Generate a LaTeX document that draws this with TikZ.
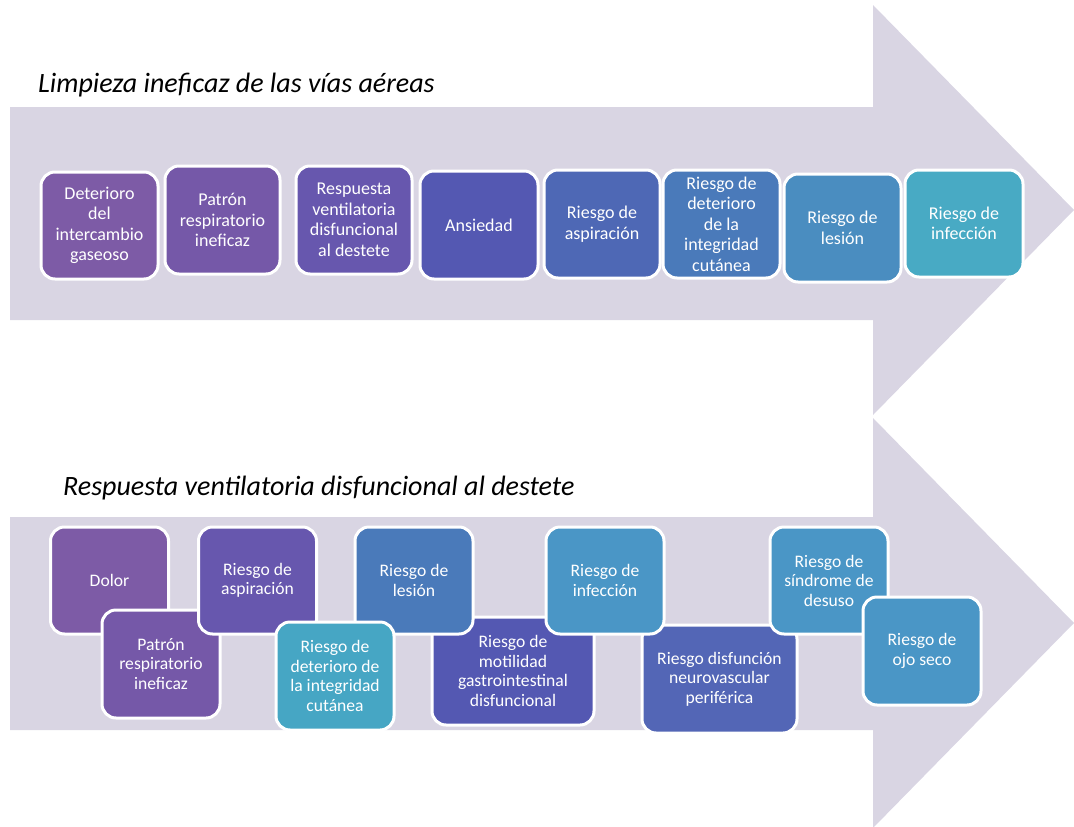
\documentclass[tikz,border=0pt]{standalone}
\usepackage{fontspec}
\setmainfont{Carlito}
\definecolor{arrowgray}{RGB}{217,213,227}
\definecolor{cA}{RGB}{125,91,166}
\definecolor{cB}{RGB}{117,88,168}
\definecolor{cC}{RGB}{103,87,174}
\definecolor{cD}{RGB}{84,88,178}
\definecolor{cE}{RGB}{78,104,181}
\definecolor{cF}{RGB}{74,122,186}
\definecolor{cG}{RGB}{74,141,192}
\definecolor{cH}{RGB}{72,170,196}
\definecolor{cI}{RGB}{74,150,198}
\definecolor{cJ}{RGB}{83,102,182}
\definecolor{cK}{RGB}{70,166,196}
\begin{document}
\begin{tikzpicture}[x=1pt,y=-1pt,
  box/.style={draw=white, line width=3pt, rounded corners=14pt, text=white,
    align=center, inner sep=0pt, minimum width=117pt, minimum height=107pt,
    font=\fontsize{18}{20.5}\selectfont},
  boxb/.style={box, minimum width=118pt, font=\fontsize{17.6}{19.5}\selectfont},
  bigarrow/.style={fill=arrowgray, draw=none},
  title/.style={anchor=base west, inner sep=0pt, font=\fontsize{28}{32}\selectfont\itshape}]
\useasboundingbox (0,0) rectangle (1074,827);
% arrows
\fill[bigarrow] (10,107) -- (873,107) -- (873,5) -- (1074,210) -- (873,415) -- (873,320) -- (10,320) -- cycle;
\fill[bigarrow] (10,517) -- (873,517) -- (873,418) -- (1074,623) -- (873,828) -- (873,730) -- (10,730) -- cycle;
% titles
\node[title] (title1) at (38,92) {Limpieza ineficaz de las vías aéreas};
\node[title] (title2) at (63,495) {Respuesta ventilatoria disfuncional al destete};
% top row
\node[box, fill=cA] (t1) at (99.5,225.5) {Deterioro\\del\\intercambio\\gaseoso};
\node[box, fill=cB, minimum width=115pt, minimum height=108pt] (t2) at (222.5,220) {Patrón\\respiratorio\\ineficaz};
\node[box, fill=cC, minimum width=116pt, minimum height=108pt] (t3) at (354,220) {Respuesta\\ventilatoria\\disfuncional\\al destete};
\node[box, fill=cD, minimum width=118pt, minimum height=108pt] (t4) at (479,225) {Ansiedad};
\node[box, fill=cE, minimum width=116pt, minimum height=108pt] (t5) at (602,224) {Riesgo de\\aspiración};
\node[box, fill=cF, minimum height=108pt] (t6) at (721.5,224) {Riesgo de\\deterioro\\de la\\integridad\\cutánea};
\node[box, fill=cG, minimum height=108pt] (t7) at (842.5,228) {Riesgo de\\lesión};
\node[box, fill=cH, minimum width=118pt] (t8) at (964,223.5) {Riesgo de\\infección};
% bottom row
\node[boxb, fill=cA] (b1) at (109.5,580.5) {Dolor};
\node[boxb, fill=cB, minimum height=108pt] (b2) at (161,664) {Patrón\\respiratorio\\ineficaz};
\node[boxb, fill=cC] (b3) at (257.5,580.5) {Riesgo de\\aspiración};
\node[boxb, fill=cD, minimum width=162pt, minimum height=108pt] (b6) at (513,671) {Riesgo de\\motilidad\\gastrointestinal\\disfuncional};
\node[boxb, fill=cF] (b5) at (414,580.5) {Riesgo de\\lesión};
\node[boxb, fill=cK, minimum height=108pt] (b4) at (335,676) {Riesgo de\\deterioro de\\la integridad\\cutánea};
\node[boxb, fill=cJ, minimum width=155pt, minimum height=108pt] (b8) at (719.5,679) {Riesgo disfunción\\neurovascular\\periférica};
\node[boxb, fill=cI] (b7) at (605,580.5) {Riesgo de\\infección};
\node[boxb, fill=cI] (b9) at (829,580.5) {Riesgo de\\síndrome de\\desuso};
\node[boxb, fill=cI, minimum height=108pt] (b10) at (922,651) {Riesgo de\\ojo seco};
\end{tikzpicture}
\end{document}
